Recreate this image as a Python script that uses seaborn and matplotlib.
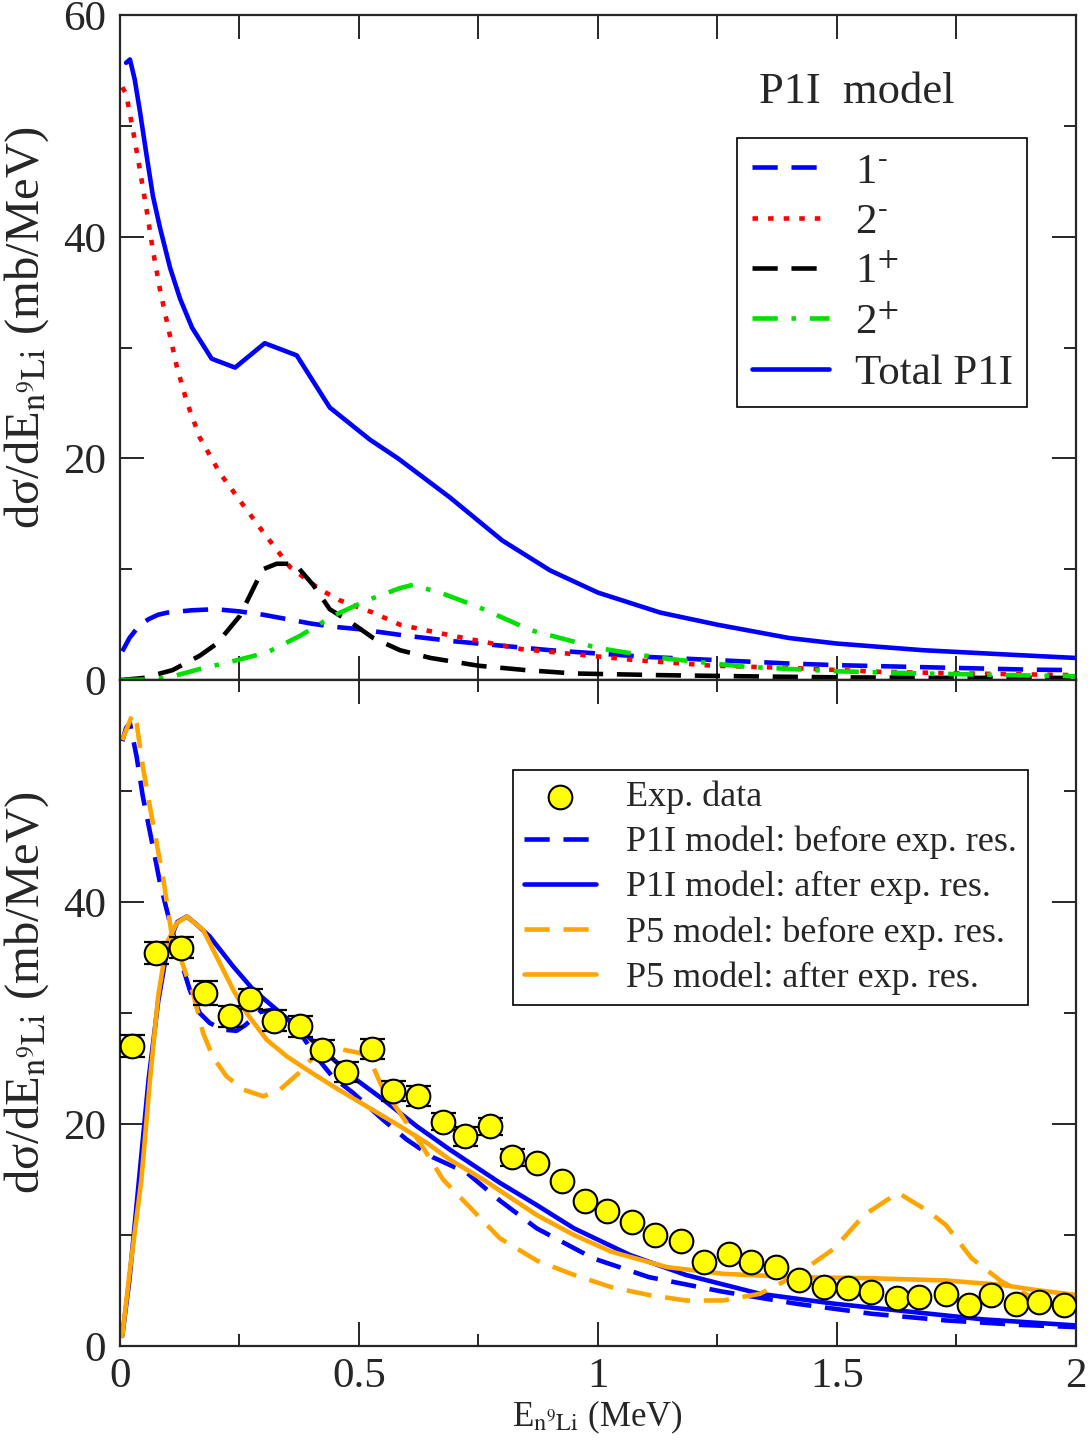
import matplotlib
matplotlib.use('Agg')
import matplotlib.pyplot as plt
import seaborn as sns
from matplotlib.ticker import MultipleLocator, FixedLocator, FuncFormatter

# ---- top panel: P1I model, contributions of each state ----
x_1m = [0.005, 0.02, 0.04, 0.06, 0.08, 0.1, 0.15, 0.2, 0.25, 0.3, 0.35, 0.4, 0.45, 0.5,
        0.6, 0.7, 0.8, 0.9, 1.0, 1.1, 1.2, 1.3, 1.4, 1.5, 1.6, 1.7, 1.8, 1.9, 2.0]
y_1m = [2.6, 3.8, 4.9, 5.5, 5.9, 6.1, 6.3, 6.4, 6.2, 5.9, 5.5, 5.1, 4.8, 4.6,
        4.0, 3.5, 3.1, 2.7, 2.4, 2.1, 1.9, 1.7, 1.5, 1.35, 1.25, 1.15, 1.05, 0.95, 0.9]

x_2m = [0.005, 0.013, 0.027, 0.042, 0.056, 0.069, 0.084, 0.098, 0.119, 0.14, 0.167, 0.209,
        0.251, 0.299, 0.356, 0.418, 0.46, 0.529, 0.586, 0.64, 0.72, 0.84, 0.96, 1.08,
        1.24, 1.4, 1.59, 1.77, 2.0]
y_2m = [53.5, 52.9, 49.7, 46.0, 42.4, 38.8, 35.2, 32.4, 28.3, 25.1, 21.9, 18.7,
        16.2, 13.4, 10.2, 8.2, 7.2, 6.1, 5.0, 4.5, 3.8, 2.8, 2.3, 1.8,
        1.3, 1.1, 0.75, 0.6, 0.45]

x_1p = [0.0, 0.05, 0.11, 0.167, 0.203, 0.251, 0.299, 0.328, 0.366, 0.404, 0.439, 0.487,
        0.53, 0.586, 0.65, 0.75, 0.85, 0.95, 1.13, 1.3, 1.5, 1.75, 2.0]
y_1p = [0.0, 0.2, 0.9, 2.2, 3.3, 5.8, 10.0, 10.5, 10.5, 8.6, 6.4, 5.1,
        3.8, 2.7, 2.0, 1.3, 0.9, 0.6, 0.45, 0.35, 0.25, 0.2, 0.2]

x_2p = [0.0, 0.05, 0.098, 0.167, 0.236, 0.308, 0.377, 0.446, 0.517, 0.586, 0.613, 0.676,
        0.75, 0.86, 1.0, 1.13, 1.31, 1.5, 1.68, 1.86, 2.0]
y_2p = [0.0, 0.05, 0.2, 1.0, 1.7, 2.5, 4.0, 5.8, 7.2, 8.3, 8.6, 7.8,
        6.6, 4.5, 2.9, 2.0, 1.2, 0.8, 0.6, 0.45, 0.35]

x_tot = [0.013, 0.021, 0.031, 0.042, 0.056, 0.069, 0.084, 0.105, 0.126, 0.151, 0.192, 0.241,
         0.303, 0.370, 0.439, 0.523, 0.582, 0.69, 0.80, 0.90, 1.0, 1.13, 1.25, 1.40, 1.5,
         1.68, 1.86, 2.0]
y_tot = [55.7, 56.0, 54.2, 51.3, 47.3, 43.7, 40.8, 37.2, 34.4, 31.8, 29.0, 28.2,
         30.4, 29.3, 24.6, 21.7, 20.0, 16.5, 12.6, 9.9, 7.9, 6.1, 5.0, 3.8, 3.3,
         2.7, 2.3, 2.0]

# ---- bottom panel: comparison with experiment ----
exp_x = [0.026, 0.075, 0.128, 0.178, 0.230, 0.272, 0.322, 0.377, 0.422, 0.474,
         0.527, 0.572, 0.624, 0.676, 0.722, 0.774, 0.821, 0.872, 0.925, 0.973,
         1.019, 1.071, 1.12, 1.174, 1.222, 1.274, 1.32, 1.372, 1.42, 1.473,
         1.523, 1.571, 1.625, 1.671, 1.728, 1.776, 1.822, 1.874, 1.922, 1.975]
exp_y = [27.0, 35.4, 35.9, 31.8, 29.7, 31.3, 29.3, 28.8, 26.7, 24.7,
         26.8, 23.0, 22.5, 20.2, 18.9, 19.8, 17.0, 16.5, 14.9, 13.1,
         12.2, 11.2, 10.0, 9.5, 7.6, 8.3, 7.6, 7.1, 5.9, 5.3,
         5.2, 4.9, 4.3, 4.4, 4.7, 3.7, 4.6, 3.8, 4.0, 3.7]
exp_err = [1.0, 0.96, 0.98, 1.05, 0.93, 0.9, 0.93, 0.97, 0.86, 0.9,
           0.9, 0.9, 0.9, 0.75, 0.86, 0.78, 0.78, 0.0, 0.0, 0.0,
           0.0, 0.0, 0.0, 0.0, 0.0, 0.0, 0.0, 0.0, 0.0, 0.0,
           0.0, 0.0, 0.0, 0.0, 0.0, 0.0, 0.0, 0.0, 0.0, 0.0]

x_p1_bef = [0.005, 0.013, 0.021, 0.035, 0.048, 0.069, 0.084, 0.105, 0.129, 0.146, 0.167, 0.188,
            0.216, 0.244, 0.262, 0.293, 0.32, 0.349, 0.377, 0.412, 0.446, 0.488, 0.55, 0.6,
            0.655, 0.726, 0.795, 0.872, 0.99, 1.107, 1.26, 1.416, 1.573, 1.728, 1.883, 2.0]
y_p1_bef = [54.5, 55.7, 56.1, 53.1, 49.5, 45.0, 41.7, 38.1, 34.5, 32.1, 30.0, 29.1,
            28.5, 28.4, 28.9, 30.1, 30.3, 29.6, 28.2, 26.0, 24.2, 22.8, 20.4, 18.6,
            17.0, 15.6, 13.1, 10.6, 7.9, 6.2, 4.9, 3.8, 2.9, 2.3, 1.9, 1.7]

x_p1_aft = [0.005, 0.02, 0.04, 0.06, 0.08, 0.1, 0.12, 0.14, 0.16, 0.188, 0.237, 0.279,
            0.328, 0.377, 0.432, 0.488, 0.551, 0.621, 0.69, 0.774, 0.795, 0.872, 0.95,
            1.067, 1.184, 1.339, 1.496, 1.65, 1.805, 2.0]
y_p1_aft = [0.9, 6.0, 15.0, 24.0, 31.0, 36.0, 38.2, 38.7, 38.0, 36.9, 34.2, 32.1,
            30.3, 28.5, 26.4, 24.2, 22.2, 19.8, 17.7, 15.3, 14.7, 12.7, 10.6,
            8.2, 6.4, 4.7, 3.8, 3.1, 2.4, 1.85]

x_p5_bef = [0.005, 0.027, 0.035, 0.048, 0.069, 0.09, 0.108, 0.119, 0.14, 0.153, 0.174, 0.195,
            0.223, 0.258, 0.30, 0.335, 0.377, 0.404, 0.432, 0.467, 0.502, 0.523, 0.551,
            0.586, 0.628, 0.676, 0.795, 0.872, 0.95, 1.028, 1.106, 1.184, 1.262, 1.339,
            1.416, 1.495, 1.557, 1.628, 1.689, 1.728, 1.782, 1.845, 1.907, 1.962, 1.985]
y_p5_bef = [54.6, 57.0, 56.1, 52.2, 47.1, 42.3, 37.2, 36.0, 33.3, 31.8, 28.2, 26.0,
            24.3, 23.1, 22.5, 23.1, 24.7, 26.0, 26.7, 26.7, 26.4, 25.8, 23.1,
            21.0, 18.3, 15.0, 9.7, 7.7, 6.4, 5.3, 4.6, 4.1, 4.1, 4.7,
            6.4, 8.8, 11.8, 13.8, 12.2, 10.9, 7.9, 5.8, 4.4, 3.7, 3.3]

x_p5_aft = [0.005, 0.02, 0.045, 0.063, 0.08, 0.098, 0.119, 0.14, 0.174, 0.202, 0.237, 0.265,
            0.307, 0.349, 0.391, 0.446, 0.516, 0.586, 0.642, 0.69, 0.76, 0.795, 0.872,
            0.95, 1.028, 1.145, 1.262, 1.416, 1.573, 1.728, 1.845, 1.923, 2.0]
y_p5_aft = [0.9, 6.5, 15.0, 24.0, 31.5, 36.3, 38.1, 38.7, 37.5, 35.1, 32.1, 30.0,
            27.6, 26.1, 24.9, 23.4, 21.6, 19.8, 18.3, 16.8, 15.0, 14.0, 11.8,
            10.0, 8.5, 7.1, 6.5, 6.2, 6.1, 5.9, 5.5, 5.0, 4.6]

sns.set_style('ticks')
plt.rcParams['font.family'] = ['Liberation Serif', 'DejaVu Serif']
plt.rcParams['mathtext.fontset'] = 'stix'
plt.rcParams['axes.linewidth'] = 1.6

BLUE, RED, GREEN, ORANGE = '#0000ff', '#ff0000', '#00e000', '#ffa500'
DASH = (0, (5.5, 3.0))
DOT = (0, (1.2, 2.2))
DASHDOT = (0, (5.5, 3.0, 1.0, 3.0))
LW = 3.3

fig = plt.figure(figsize=(10.9, 14.44), dpi=100)
ax1 = fig.add_axes([0.110, 0.529, 0.877, 0.4605])
ax2 = fig.add_axes([0.110, 0.0679, 0.877, 0.4611])


def curve(ax, x, y, color, ls, label, lw=LW):
    sns.lineplot(x=x, y=y, ax=ax, color=color, linestyle=ls, lw=lw,
                 label=label, errorbar=None, sort=False)


# top panel
curve(ax1, x_1m, y_1m, BLUE, DASH, r'1$^{\text{-}}$')
curve(ax1, x_2m, y_2m, RED, DOT, r'2$^{\text{-}}$')
curve(ax1, x_1p, y_1p, 'black', DASH, r'1$^{+}$')
curve(ax1, x_2p, y_2p, GREEN, DASHDOT, r'2$^{+}$')
curve(ax1, x_tot, y_tot, BLUE, '-', 'Total P1I')
ax1.axhline(0, color='black', lw=1.6)

leg1 = ax1.legend(loc='upper left', bbox_to_anchor=(0.646, 0.815), borderaxespad=0,
                  fontsize=31, handlelength=1.8, handletextpad=0.6, borderpad=0.33,
                  labelspacing=0.26, fancybox=False, framealpha=1, edgecolor='black')
leg1.get_frame().set_linewidth(1.2)
ax1.text(0.669, 0.884, 'P1I  model', transform=ax1.transAxes, fontsize=32,
         ha='left', va='center')

# bottom panel
sns.scatterplot(x=exp_x, y=exp_y, ax=ax2, s=290, color='#ffff00', edgecolor='black',
                linewidth=1.5, zorder=5, label='Exp. data')
ex = [x for x, e in zip(exp_x, exp_err) if e > 0]
ey = [y for y, e in zip(exp_y, exp_err) if e > 0]
ee = [e for e in exp_err if e > 0]
ax2.errorbar(ex, ey, yerr=ee, fmt='none', ecolor='black', elinewidth=1.5,
             capsize=9, capthick=1.6, zorder=4)
curve(ax2, x_p1_bef, y_p1_bef, BLUE, DASH, 'P1I model: before exp. res.')
curve(ax2, x_p1_aft, y_p1_aft, BLUE, '-', 'P1I model: after exp. res.')
curve(ax2, x_p5_bef, y_p5_bef, ORANGE, DASH, 'P5 model: before exp. res.')
curve(ax2, x_p5_aft, y_p5_aft, ORANGE, '-', 'P5 model: after exp. res.')

h, l = ax2.get_legend_handles_labels()
order = [l.index('Exp. data')] + [i for i in range(len(l)) if l[i] != 'Exp. data']
leg2 = ax2.legend([h[i] for i in order], [l[i] for i in order],
                  loc='upper left', bbox_to_anchor=(0.411, 0.865), borderaxespad=0,
                  fontsize=26, handlelength=2.0, handletextpad=0.83, borderpad=0.3,
                  labelspacing=0.32, fancybox=False, framealpha=1, edgecolor='black')
leg2.get_frame().set_linewidth(1.2)

fmt = FuncFormatter(lambda v, p: '%g' % v)
for ax in (ax1, ax2):
    ax.set_xlim(0, 2)
    ax.set_ylim(0, 60)
    ax.yaxis.set_minor_locator(MultipleLocator(10))
    ax.tick_params(which='both', direction='in', top=True, right=True,
                   labelsize=31, width=1.4)
    ax.tick_params(which='major', length=17)
    ax.tick_params(which='minor', length=8.5)
    ax.tick_params(axis='y', pad=10)
    ax.tick_params(axis='x', pad=8)
    ax.xaxis.set_major_formatter(fmt)
    ax.yaxis.set_major_formatter(fmt)
    ax.set_ylabel('dσ/dE$_{\\mathrm{n}{}^{9}\\mathrm{Li}}$ (mb/MeV)', fontsize=35)
    ax.yaxis.set_label_coords(-0.072, 0.53)

ax1.xaxis.set_major_locator(MultipleLocator(0.25))
ax1.yaxis.set_major_locator(MultipleLocator(20))
ax1.tick_params(axis='x', labelbottom=False)

ax2.xaxis.set_major_locator(MultipleLocator(0.5))
ax2.xaxis.set_minor_locator(MultipleLocator(0.25))
ax2.yaxis.set_major_locator(FixedLocator([0, 20, 40]))
ax2.set_xlabel('E$_{\\mathrm{n}{}^{9}\\mathrm{Li}}$ (MeV)', fontsize=25, labelpad=2)

fig.savefig('out.png', dpi=100)
